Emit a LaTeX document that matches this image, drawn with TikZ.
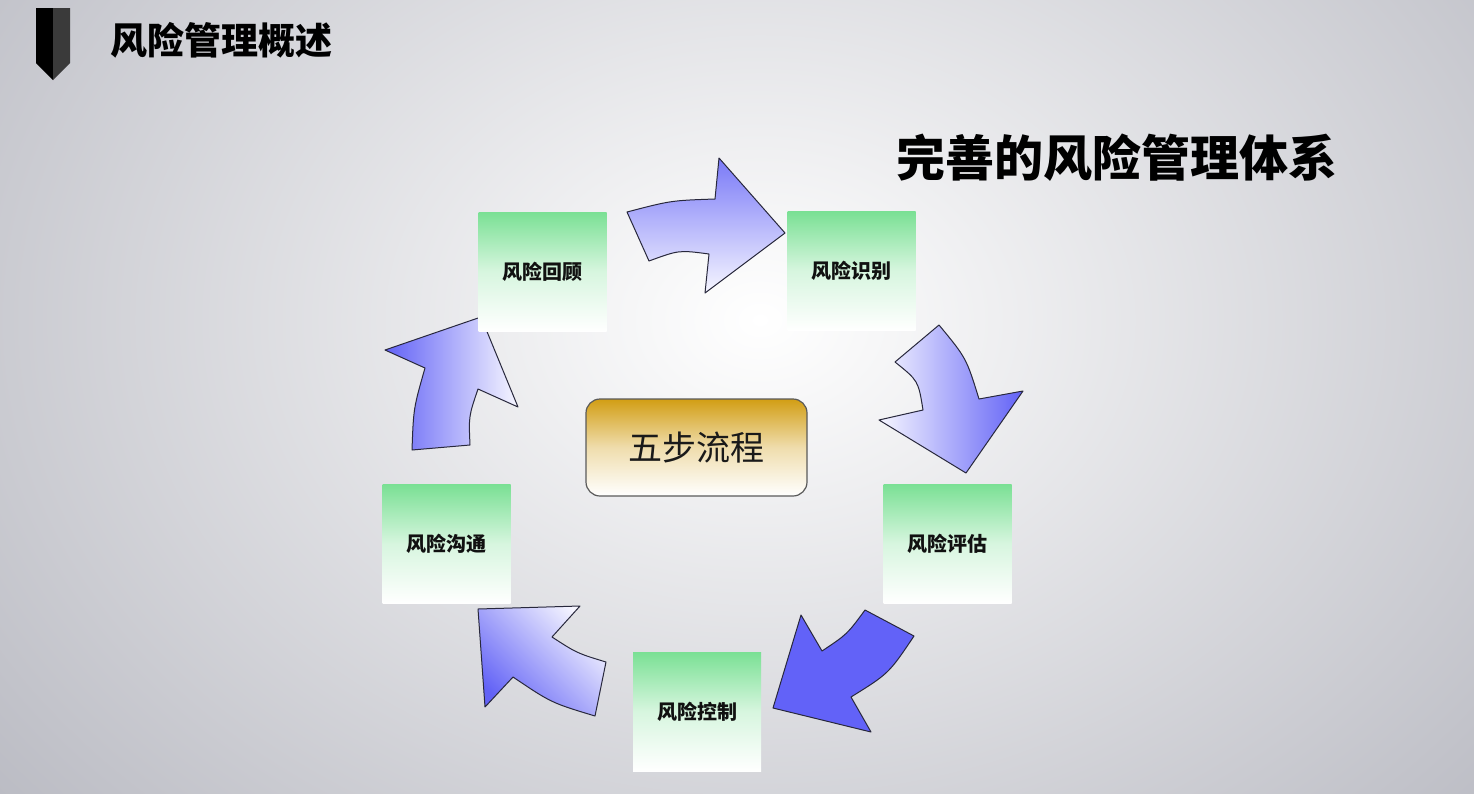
\documentclass[tikz,border=0pt]{standalone}
\usepackage{fontspec}
\newfontfamily\cjk{Noto Sans CJK SC}
\definecolor{bgray}{RGB}{186,187,195}
\definecolor{arrowblue}{RGB}{98,98,246}
\definecolor{lav}{RGB}{246,246,255}
\definecolor{boxgreen}{RGB}{122,224,148}
\definecolor{goldtop}{RGB}{210,158,20}
\definecolor{edgegray}{RGB}{40,40,60}
\definecolor{icondark}{RGB}{58,58,58}
\tikzset{
  arr/.style={draw=edgegray, line width=1pt, line join=round},
  gbox/.style={minimum width=128pt, minimum height=119pt, inner sep=0pt,
    top color=boxgreen, bottom color=white, middle color=boxgreen!30!white,
    font=\cjk\bfseries\fontsize{20}{20}\selectfont, text={rgb,255:red,17;green,17;blue,17}},
  centerbox/.style={minimum width=221pt, minimum height=97pt, inner sep=0pt,
    rounded corners=14pt, draw={rgb,255:red,90;green,90;blue,90}, line width=1.2pt,
    top color=goldtop, bottom color=white, middle color=goldtop!35!white,
    font=\cjk\fontsize{34}{34}\selectfont, text={rgb,255:red,26;green,26;blue,26}},
  titlea/.style={anchor=west, inner sep=0pt, font=\cjk\bfseries\fontsize{37}{37}\selectfont},
  titleb/.style={anchor=west, inner sep=0pt, font=\cjk\bfseries\fontsize{49}{49}\selectfont}
}
\begin{document}
\begin{tikzpicture}[x=1pt,y=-1pt]
\useasboundingbox (0,0) rectangle (1474,793);
\fill[bgray] (0,0) rectangle (1474,793);
\begin{scope}
\clip (0,0) rectangle (1474,793);
\shade[inner color=white, outer color=bgray] (760,320) ellipse [x radius=1000, y radius=760];
\end{scope}
% icon
\fill[black] (36,8) -- (53,8) -- (53,80) -- (36,63) -- cycle;
\fill[icondark] (53,8) -- (70,8) -- (70,63) -- (53,80) -- cycle;
% titles
\node[titlea] (t1) at (110,40) {风险管理概述};
\node[titleb] (t2) at (896,158) {完善的风险管理体系};
% arrows
\path[arr, top color=arrowblue!85!white, bottom color=lav]
  (627,212) .. controls (671,200.5) .. (715,199) -- (719,158) -- (785,233) -- (705,293)
  -- (709,254) .. controls (679,250) .. (649,261) -- cycle;
\path[arr, left color=lav, right color=arrowblue]
  (895,362) -- (939,325) .. controls (966.3,358) .. (979,399) -- (1023,391) -- (966,473)
  -- (879,420) -- (923,410) .. controls (918.3,380.7) .. (895,362) -- cycle;
\path[arr, fill={rgb,255:red,98;green,98;blue,248}]
  (865,610) -- (914,636) .. controls (888.8,673.5) .. (851,697) -- (871,732) -- (773,708)
  -- (801,615) -- (822,651) .. controls (847.2,634.2) .. (865,610) -- cycle;
\path[arr, top color=lav, bottom color=arrowblue, shading angle=-45]
  (595,716) -- (606,662) .. controls (577,653.2) .. (552,637) -- (580,606) -- (478,609)
  -- (485,707) -- (513,677) .. controls (551.3,702.8) .. (595,716) -- cycle;
\path[arr, left color=arrowblue, right color=lav]
  (412,450) -- (470,445) .. controls (468.7,416.3) .. (478,389) -- (518,407) -- (481,317)
  -- (385,350) -- (425,368) .. controls (413.5,408.3) .. (412,450) -- cycle;
% boxes
\node[gbox] (b1) at (542.5,271.5) {风险回顾};
\node[gbox] (b2) at (851.5,271) {风险识别};
\node[gbox] (b3) at (947.5,543.5) {风险评估};
\node[gbox] (b4) at (697,711.5) {风险控制};
\node[gbox] (b5) at (446.5,544) {风险沟通};
\node[centerbox] (c) at (696.5,447.5) {五步流程};
\end{tikzpicture}
\end{document}
